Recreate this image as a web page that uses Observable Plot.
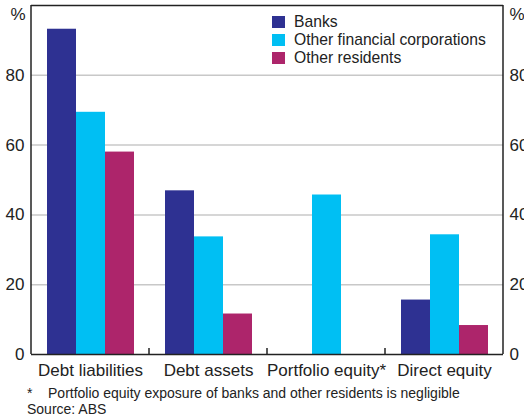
<!DOCTYPE html>
<html><head><meta charset="utf-8">
<script src="https://cdn.jsdelivr.net/npm/d3@7"></script>
<script src="https://cdn.jsdelivr.net/npm/@observablehq/plot@0.6"></script>
<style>
body{margin:0;background:#fff;font-family:"Liberation Sans",Arial,sans-serif;color:#222;}
#wrap{position:relative;width:524px;height:418px;overflow:hidden;}
#chart{position:absolute;left:0;top:0;}
#legend{position:absolute;left:272px;top:13px;font-size:15.7px;line-height:18px;}
#legend .row{display:flex;align-items:center;height:18px;}
#legend .sw{width:13px;height:12px;margin-right:9px;}
#notes{position:absolute;left:27px;top:385px;font-size:14px;line-height:16px;white-space:pre;}
</style></head><body>
<div id="wrap"><div id="chart"></div><div id="legend"></div><div id="notes"></div></div>
<script>
const categories = ["Debt liabilities", "Debt assets", "Portfolio equity*", "Direct equity"];
const seriesNames = ["Banks", "Other financial corporations", "Other residents"];
const seriesColors = ["#2e3192", "#00bff3", "#ad256b"];
const banks = [93.2, 46.9, null, 15.6];
const otherFinancial = [69.4, 33.7, 45.7, 34.3];
const otherResidents = [58.0, 11.6, null, 8.3];
const yTicks = [0, 20, 40, 60, 80];
const footnote = "*    Portfolio equity exposure of banks and other residents is negligible";
const source = "Source: ABS";

const data = [];
[banks, otherFinancial, otherResidents].forEach((vals, s) =>
  vals.forEach((v, i) => { if (v != null) data.push({category: categories[i], series: seriesNames[s], value: v}); }));

const font = '"Liberation Sans", Arial, sans-serif';
const plot = Plot.plot({
  width: 524, height: 380,
  marginTop: 5, marginLeft: 30, marginRight: 20, marginBottom: 26,
  style: {fontFamily: font, fontSize: "17px", color: "#222", background: "white", overflow: "visible"},
  fx: {domain: categories, padding: 0, label: null, axis: null},
  x: {domain: seriesNames, paddingInner: 0, paddingOuter: 0.5, axis: null},
  y: {domain: [0, 100], axis: null},
  color: {domain: seriesNames, range: seriesColors},
  marks: [
    Plot.gridY(yTicks.filter(d => d > 0), {stroke: "#c8c8c8", strokeOpacity: 1, strokeWidth: 1.5}),
    Plot.barY(data, {fx: "category", x: "series", y: "value", fill: "series"}),
    Plot.axisFx({anchor: "bottom", tickSize: 0, tickPadding: 9, fontSize: 17, label: null}),
    Plot.axisY(yTicks, {anchor: "left", tickSize: 0, tickPadding: 7, fontSize: 17, label: null}),
    Plot.axisY(yTicks, {anchor: "right", tickSize: 0, tickPadding: 6, fontSize: 17, label: null}),
    Plot.text([{category: categories[0]}], {fx: "category", text: () => "%", frameAnchor: "top-left", textAnchor: "end", lineAnchor: "top", dx: -6, dy: 2, fontSize: 17}),
    Plot.text([{category: categories[3]}], {fx: "category", text: () => "%", frameAnchor: "top-right", textAnchor: "start", lineAnchor: "top", dx: 6, dy: 2, fontSize: 17}),
    Plot.ruleY([0, 100], {stroke: "#222", strokeWidth: 1.5})
  ]
});
document.getElementById("chart").appendChild(plot);

// outer frame sides and category-boundary ticks, positioned from Plot's scales
const fx = plot.scale("fx"), y = plot.scale("y");
const svg = d3.select(plot);
const x0 = fx.apply(categories[0]);
const x1 = fx.apply(categories[categories.length - 1]) + fx.bandwidth;
const g = svg.append("g").attr("stroke", "#222").attr("stroke-width", 1.5);
[x0, x1].forEach(x => g.append("line").attr("x1", x).attr("x2", x).attr("y1", y.apply(100)).attr("y2", y.apply(0)));
categories.slice(1).forEach(c => {
  const x = fx.apply(c);
  g.append("line").attr("x1", x).attr("x2", x).attr("y1", y.apply(0) - 6).attr("y2", y.apply(0));
});

const legend = d3.select("#legend");
seriesNames.forEach((n, i) => {
  const row = legend.append("div").attr("class", "row");
  row.append("div").attr("class", "sw").style("background", seriesColors[i]);
  row.append("span").text(n);
});
document.getElementById("notes").textContent = footnote + "\n" + source;
</script></body></html>
